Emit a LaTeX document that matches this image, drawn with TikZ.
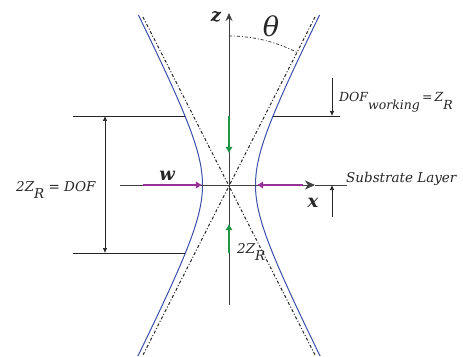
\documentclass[tikz,border=0pt]{standalone}
\usepackage{fontspec}
\setmainfont{DejaVu Serif}
\usetikzlibrary{arrows.meta, calc}

\definecolor{beamblue}{RGB}{60,80,170}
\definecolor{wpurple}{RGB}{150,50,150}
\definecolor{zgreen}{RGB}{30,150,70}

\tikzset{
  axisline/.style={black!75, line width=0.8pt},
  dimline/.style={black!85, line width=0.7pt},
  asymline/.style={black!85, line width=1pt, dash dot},
  lbl/.style={font=\fontsize{13.5}{15}\selectfont\itshape, inner sep=0pt, text=black!85},
  axlbl/.style={lbl, font=\fontsize{18}{20}\selectfont\bfseries\itshape},
  thickarrow/.style={line width=2.5pt, -{Latex[length=6pt, width=7.5pt]}},
}

\begin{document}
\begin{tikzpicture}[x=1pt, y=1pt]
  \useasboundingbox (-229,-171) rectangle (234,185);
  \coordinate (O) at (0,0);

  % Beam envelope and asymptotes
  \draw[beamblue, line width=1pt] plot[domain=-171:170, samples=90, variable=\t] ({26.5*sqrt(1+(\t/52)^2)},\t);
  \draw[beamblue, line width=1pt] plot[domain=-171:170, samples=90, variable=\t] ({-26.5*sqrt(1+(\t/52)^2)},\t);
  \coordinate (A1) at (-86,168);
  \coordinate (A2) at (86,-170);
  \coordinate (B1) at (86,168);
  \coordinate (B2) at (-86,-170);
  \draw[asymline] (A1) -- (A2);
  \draw[asymline] (B1) -- (B2);

  % Axes
  \coordinate (zbot) at (0,-120);
  \coordinate (ztop) at (0,172);
  \coordinate (xleft) at (-109,0);
  \coordinate (xtip) at (86,0);
  \coordinate (subend) at (118,0);
  \draw[axisline, -{Stealth[length=8pt, width=7pt]}] (zbot) -- (ztop);
  \draw[axisline] (xtip) -- (subend);
  \draw[axisline, -{Stealth[length=10pt, width=9pt, inset=3pt]}] (xleft) -- (xtip);
  \node[axlbl, anchor=base] (zlabel) at (-13,163) {z};
  \node[axlbl, anchor=base] (xlabel) at (84,-22) {x};

  % Divergence angle
  \draw[asymline, line width=0.7pt] (0,149) arc (90:63.2:149);
  \node[lbl, font=\fontsize{27}{29}\selectfont\itshape, anchor=base] (theta) at (42,148) {θ};

  % Waist w
  \coordinate (wl1) at (-86,0);
  \coordinate (wl2) at (-27,0);
  \coordinate (wr1) at (74,0);
  \coordinate (wr2) at (28,0);
  \draw[wpurple, thickarrow] (wl1) -- (wl2);
  \draw[wpurple, thickarrow] (wr1) -- (wr2);
  \node[axlbl, anchor=base] (wlabel) at (-62,5) {w};

  % Rayleigh range on the z axis
  \coordinate (gt1) at (0,69);
  \coordinate (gt2) at (0,32);
  \coordinate (gb1) at (0,-68);
  \coordinate (gb2) at (0,-39);
  \draw[zgreen, thickarrow] (gt1) -- (gt2);
  \draw[zgreen, thickarrow] (gb1) -- (gb2);
  \node[lbl, anchor=base west] (zrlabel) at (8,-68) {2Z\raisebox{-1.1ex}{R}};

  % Depth of focus
  \coordinate (dtl) at (-156,69);
  \coordinate (dtm) at (-44,69);
  \coordinate (dbl) at (-156,-68);
  \coordinate (dbm) at (-44,-68);
  \coordinate (drl) at (44,69);
  \coordinate (drr) at (111,69);
  \draw[dimline] (dtl) -- (dtm);
  \draw[dimline] (dbl) -- (dbm);
  \draw[dimline] (drl) -- (drr);
  \coordinate (dofT) at (-124,69);
  \coordinate (dofB) at (-124,-68);
  \draw[dimline, {Latex[length=5pt, width=4.5pt]}-{Latex[length=5pt, width=4.5pt]}] (dofT) -- (dofB);
  \node[lbl, anchor=base west] (doflabel) at (-213,-6) {2Z\raisebox{-1.1ex}{R} = DOF};

  % Working distance and substrate
  \coordinate (wk1) at (103,107);
  \coordinate (wk2) at (103,69);
  \draw[dimline, -{Latex[length=5pt, width=4.5pt]}] (wk1) -- (wk2);
  \node[lbl, font=\fontsize{12.5}{14}\selectfont\itshape, anchor=base west] (wklabel) at (110,83) {DOF\raisebox{-1.1ex}{working}\,=\,Z\raisebox{-1.1ex}{R}};
  \coordinate (sb1) at (103,-32);
  \coordinate (sb2) at (103,0);
  \draw[dimline, -{Latex[length=5pt, width=4.5pt]}] (sb1) -- (sb2);
  \node[lbl, anchor=base west] (sublabel) at (117,3) {Substrate Layer};

\end{tikzpicture}
\end{document}
